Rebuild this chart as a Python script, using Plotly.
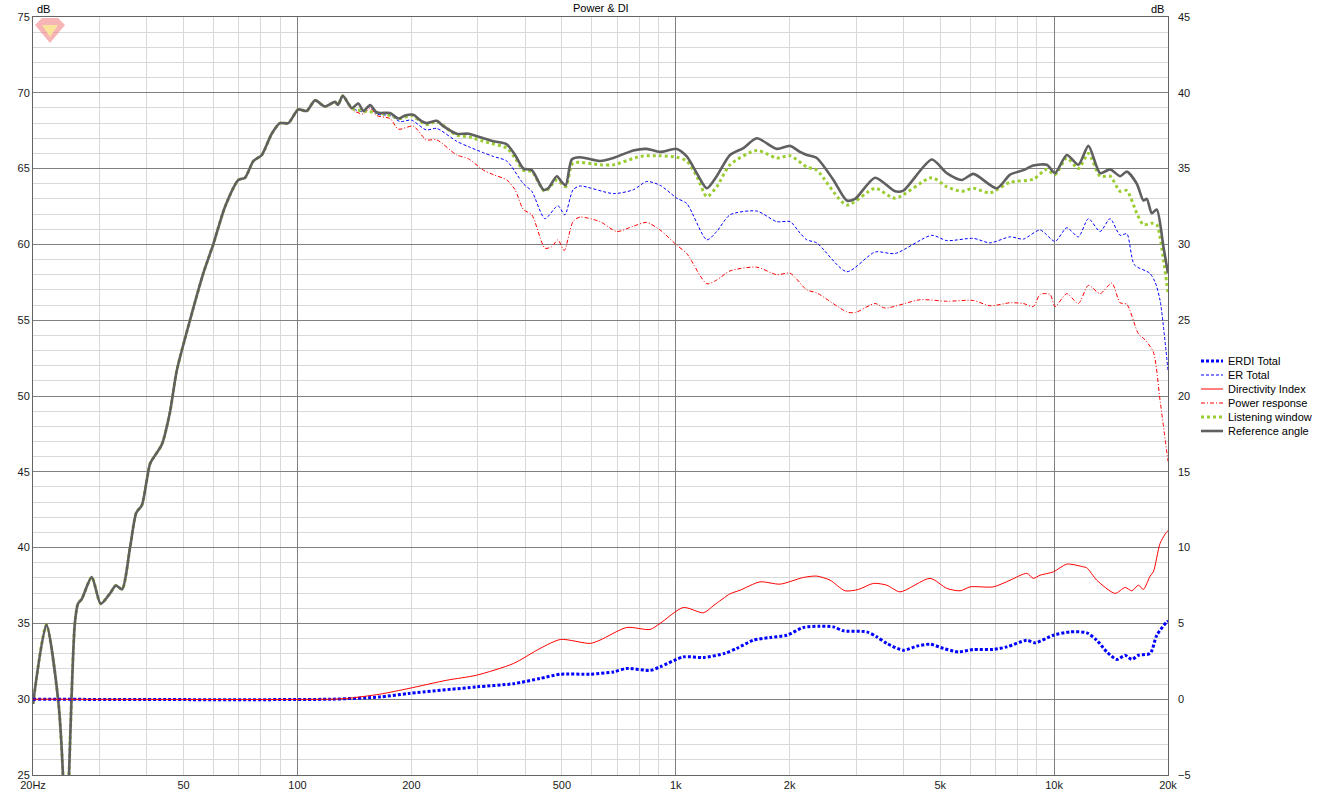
import math
import plotly.graph_objects as go

# ---------------- data ----------------
REF_F = [20, 21.7, 23.3, 24.0, 24.4, 24.9, 25.8, 26.3, 26.9, 28.6, 30.2, 32.0, 33.1, 34.4, 36.1, 37.5, 38.8, 40.0,
         40.8, 43.8, 46.0, 48.0, 52.0, 56.4, 59.9, 64.4, 69.8, 72.7, 76.5, 80.5, 85.5, 89.9, 94.6, 100.5, 105.8,
         111.3, 118.3, 125.7, 128, 131.8, 139.2, 144.9, 149.4, 155.6, 162, 175.7, 184.8, 192.5, 202.4, 210.9, 219,
         233.4, 243, 263.6, 283, 310, 329.6, 357.4, 376, 395.6, 416.4, 447, 460, 485, 500, 512, 531, 558, 631, 684,
         772, 838, 909, 1006, 1069, 1136, 1208, 1283, 1391, 1509, 1637, 1849, 2005, 2130, 2220, 2358, 2610, 2831,
         2978, 3364, 3799, 3995, 4750, 5204, 5702, 6120, 7054, 7650, 8294, 8814, 9564, 10058, 10802, 11592, 12322,
         13230, 14060, 14944, 15566, 16542, 17218, 17580, 18122, 18680, 19450, 20000]
REF_DB = [29.7, 34.9, 30.0, 25.0, 18.0, 25.0, 35.0, 36.3, 36.6, 38.05, 36.3, 37.0, 37.5, 37.25, 40.0, 42.3, 42.8, 44.5,
          45.55, 46.8, 48.9, 51.7, 55.0, 58.1, 60.0, 62.5, 64.25, 64.4, 65.5, 65.9, 67.3, 68.0, 68.0, 68.9, 68.8,
          69.5, 69.1, 69.4, 69.2, 69.8, 69.0, 69.3, 68.8, 69.2, 68.7, 68.66, 68.3, 68.5, 68.55, 68.2, 68.0,
          68.15, 67.8, 67.3, 67.3, 67.0, 66.8, 66.6, 65.9, 65.0, 64.9, 63.6, 63.7, 64.5, 64.1, 63.9, 65.6, 65.75, 65.5,
          65.7, 66.2, 66.3, 66.1, 66.3, 65.8, 64.7, 63.7, 64.5, 65.9, 66.35, 67.0, 66.3, 66.5, 66.1, 65.9, 65.7, 64.25,
          62.9, 63.0, 64.4, 63.5, 63.55, 65.6, 64.7, 64.25, 64.65, 63.7, 64.6, 64.9, 65.2, 65.25, 64.7, 65.9, 65.25,
          66.5, 64.7, 64.95, 64.5, 64.8, 64.0, 62.9, 63.0, 62.05, 62.3, 59.85, 58.1]

LW_F = [139.2, 149.4, 162, 175.7, 187, 200, 219, 233.4, 263.6, 283, 310, 357.4, 376, 395.6, 416.4, 451, 485, 512,
        535, 631, 684, 805, 909, 1006, 1069, 1136, 1208, 1283, 1391, 1637, 1849, 2005, 2220, 2358, 2831, 3364, 3799,
        4750, 5204, 5702, 6120, 6772, 7650, 8814, 9564, 10058, 10802, 11592, 12322, 13230, 14060, 14944, 15566,
        16542, 17218, 18122, 18680, 19450, 20000]
LW_DB = [69.0, 68.8, 68.7, 68.5, 68.3, 68.5, 67.9, 68.1, 67.2, 67.1, 66.8, 66.35, 65.7, 64.9, 64.8, 63.5, 64.25, 63.8,
         65.35, 65.25, 65.25, 65.8, 65.85, 65.75, 65.5, 64.5, 63.15, 63.8, 65.25, 66.2, 65.7, 65.85, 65.1, 64.9, 62.6,
         63.7, 63.05, 64.4, 63.8, 63.5, 63.7, 63.4, 64.1, 64.3, 64.95, 64.6, 65.7, 65.0, 66.0, 64.5, 64.5, 63.5, 63.55,
         62.05, 61.3, 61.4, 61.3, 59.0, 56.8]

ER_F = [139.2, 149.4, 155.6, 162, 175.7, 187, 200, 219, 233.4, 263.6, 283, 310, 329.6, 357.4, 395.6, 416.4, 451, 488,
        509, 535, 558, 684, 772, 838, 909, 1006, 1069, 1208, 1283, 1391, 1637, 1849, 2005, 2130, 2220, 2358, 2831,
        3364, 3799, 4750, 5204, 6120, 6772, 7650, 8294, 9180, 10058, 10802, 11592, 12322, 13230, 14060, 14944,
        15566, 16300, 17900, 18500, 19060, 20000]
ER_DB = [69.0, 68.75, 69.1, 68.6, 68.5, 68.1, 68.2, 67.55, 67.65, 66.8, 66.45, 66.05, 65.8, 65.5, 64.0, 63.5, 61.7,
         62.55, 61.95, 63.6, 63.85, 63.35, 63.6, 64.15, 63.9, 63.05, 62.7, 60.3, 60.85, 61.95, 62.2, 61.5, 61.5, 60.75,
         60.3, 60.1, 58.2, 59.5, 59.4, 60.6, 60.25, 60.4, 60.1, 60.5, 60.35, 60.95, 60.2, 61.1, 60.5, 61.7, 60.85,
         61.7, 60.6, 60.7, 58.65, 58.1, 57.5, 56.3, 51.7]

PR_F = [139.2, 149.4, 155.6, 162, 175.7, 184.8, 202.4, 219, 233.4, 263.6, 283, 310, 329.6, 357.4, 376, 395.6, 416.4,
        451, 470, 488, 507, 535, 558, 631, 698, 772, 838, 909, 1006, 1069, 1208, 1283, 1391, 1637, 1849, 2005, 2220,
        2358, 2831, 2978, 3364, 3574, 4424, 5204, 6120, 6772, 7650, 8294, 8814, 9180, 9758, 10058, 10802, 11592,
        12322, 13230, 14206, 14944, 15566, 16706, 17398, 18298, 19060, 20000]
PR_DB = [68.9, 68.6, 69.0, 68.5, 68.3, 67.6, 67.8, 66.9, 66.9, 65.9, 65.65, 64.9, 64.6, 64.25, 63.6, 62.3, 61.95,
         59.75, 59.85, 60.3, 59.6, 61.5, 61.8, 61.5, 60.85, 61.2, 61.45, 60.95, 59.95, 59.4, 57.4, 57.65, 58.25, 58.5,
         58.0, 58.1, 57.0, 56.8, 55.55, 55.5, 56.1, 55.8, 56.35, 56.25, 56.3, 55.95, 56.15, 56.1, 55.9, 56.7, 56.7,
         55.9, 56.75, 56.1, 57.3, 56.75, 57.45, 56.15, 56.05, 54.1, 53.7, 52.9, 49.7, 45.7]

DI_F = [20, 122, 135, 165, 197, 248, 297, 372, 438, 496, 594, 631, 742, 855, 909, 1047, 1183, 1262, 1391, 1479, 1670,
        1887, 2174, 2358, 2558, 2802, 3039, 3330, 3612, 3916, 4700, 5204, 5642, 5998, 6910, 7650, 8468, 8814, 9180,
        9956, 10802, 11950, 12200, 12968, 14494, 15406, 16046, 16706, 17218, 17936, 18298, 19060, 19850, 20000]
DI_DB = [0, 0, 0.05, 0.33, 0.71, 1.25, 1.58, 2.35, 3.35, 3.94, 3.68, 3.9, 4.73, 4.6, 5.0, 6.05, 5.7, 6.2, 6.95, 7.19,
         7.74, 7.59, 8.03, 8.12, 7.85, 7.15, 7.24, 7.64, 7.52, 7.08, 7.97, 7.31, 7.15, 7.41, 7.41, 7.85, 8.3, 7.97,
         8.18, 8.4, 8.91, 8.73, 8.67, 7.85, 6.98, 7.37, 7.15, 7.52, 7.24, 8.12, 8.4, 10.28, 11.04, 11.1]

ERDI_F = [20, 122, 165, 197, 297, 372, 438, 496, 594, 684, 742, 855, 909, 1047, 1183, 1346, 1449, 1603, 1775, 1965,
          2174, 2406, 2610, 2774, 3198, 3399, 3612, 3995, 4335, 4700, 5096, 5584, 6120, 6910, 7498, 8468, 8906, 9956,
          11022, 12200, 12968, 13782, 14646, 15406, 16046, 16706, 17936, 18680, 19850, 20000]
ERDI_DB = [0, 0, 0.15, 0.38, 0.81, 1.02, 1.37, 1.65, 1.65, 1.8, 2.03, 1.9, 2.13, 2.79, 2.75, 3.02, 3.35, 3.89, 4.07,
           4.22, 4.73, 4.82, 4.77, 4.51, 4.44, 4.11, 3.68, 3.23, 3.5, 3.63, 3.35, 3.12, 3.28, 3.28, 3.45, 3.89, 3.72,
           4.22, 4.44, 4.38, 3.89, 3.12, 2.62, 2.9, 2.62, 2.9, 3.02, 4.22, 5.1, 5.15]

X_TICKS = [20, 50, 100, 200, 500, 1000, 2000, 5000, 10000, 20000]
X_TICK_TEXT = ["20Hz", "50", "100", "200", "500", "1k", "2k", "5k", "10k", "20k"]
X_DECADES = [100, 1000, 10000]
X_MINOR = [m * d for d in (10, 100, 1000, 10000) for m in range(2, 10) if 20 <= m * d <= 20000 and m * d not in X_TICKS]

SERIES_NAMES = ["ERDI Total", "ER Total", "Directivity Index", "Power response", "Listening window", "Reference angle"]

for a, b in [(REF_F, REF_DB), (LW_F, LW_DB), (ER_F, ER_DB), (PR_F, PR_DB), (DI_F, DI_DB), (ERDI_F, ERDI_DB)]:
    assert len(a) == len(b), (len(a), len(b))

# below ~135 Hz the spatial averages coincide with the reference response
low_f = [f for f in REF_F if f < 135]
low_db = REF_DB[:len(low_f)]

# ---------------- styles ----------------
BLUE = "#0000ff"
RED = "#ff0000"
GREEN = "#9acd32"
GREY = "#606060"
FONT = "Liberation Sans, Arial, sans-serif"

styles = {
    "ERDI Total": dict(color=BLUE, width=3, dash="3px,2px"),
    "ER Total": dict(color=BLUE, width=1, dash="3px,2px"),
    "Directivity Index": dict(color=RED, width=1, dash="solid"),
    "Power response": dict(color=RED, width=1, dash="4px,2px,1px,2px"),
    "Listening window": dict(color=GREEN, width=3, dash="3px,3px"),
    "Reference angle": dict(color=GREY, width=2.6, dash="solid"),
}

fig = go.Figure()

def add(name, xs, ys, right=False):
    fig.add_trace(go.Scatter(
        x=xs, y=ys, name=name, mode="lines",
        line=dict(shape="spline", smoothing=0.7, **styles[name]),
        xaxis="x2" if right else "x", yaxis="y2" if right else "y",
        showlegend=False, hoverinfo="x+y+name",
    ))

add("ERDI Total", ERDI_F, ERDI_DB, right=True)
add("ER Total", low_f + ER_F, low_db + ER_DB)
add("Directivity Index", DI_F, DI_DB, right=True)
add("Power response", low_f + PR_F, low_db + PR_DB)
add("Listening window", low_f + LW_F, low_db + LW_DB)
add("Reference angle", REF_F, REF_DB)

# ---------------- layout ----------------
L, R, T, B = 33, 150, 17, 18
W, H = 1318, 793
pw, ph = W - L - R, H - T - B

def px(xp):
    return (xp - L) / pw

def py(yp):
    return (H - B - yp) / ph

LIGHT = "#d9d9d9"
DARK = "#808080"
AXIS = "#646464"
TICKC = "#1a1a1a"
TF = 11
xr = [math.log10(20), math.log10(20000)]

fig.update_layout(
    width=W, height=H,
    margin=dict(l=L, r=R, t=T, b=B, autoexpand=False),
    paper_bgcolor="white", plot_bgcolor="white",
    font=dict(family=FONT, size=TF, color=TICKC),
    showlegend=False,
    xaxis=dict(type="log", range=xr, tickvals=X_TICKS, ticktext=X_TICK_TEXT, ticks="",
               showgrid=True, gridcolor=LIGHT, gridwidth=1,
               minor=dict(tickvals=X_MINOR, showgrid=True, gridcolor=LIGHT, gridwidth=1, ticks=""),
               showline=True, mirror=True, linecolor=AXIS, linewidth=1, zeroline=False,
               tickfont=dict(size=TF, color=TICKC), fixedrange=True, automargin=False),
    xaxis2=dict(type="log", range=xr, overlaying="x", tickvals=X_DECADES, showticklabels=False, ticks="",
                showgrid=True, gridcolor=DARK, gridwidth=1, showline=False, zeroline=False, fixedrange=True),
    yaxis=dict(range=[25, 75], dtick=5, tick0=25, ticks="", showgrid=True, gridcolor=DARK, gridwidth=1,
               minor=dict(dtick=1, showgrid=True, gridcolor=LIGHT, gridwidth=1, ticks=""),
               showline=True, mirror=True, linecolor=AXIS, linewidth=1, zeroline=False,
               tickfont=dict(size=TF, color=TICKC), fixedrange=True, automargin=False),
    yaxis2=dict(range=[-5, 45], dtick=5, tick0=-5, side="right", overlaying="y", anchor="x2", ticks="",
                showgrid=False, zeroline=False, showline=False, ticklabelstandoff=9,
                tickfont=dict(size=TF, color=TICKC), fixedrange=True, automargin=False),
)

annotations = [
    dict(text="Power & DI", x=0.5, y=py(8), xref="paper", yref="paper", showarrow=False,
         xanchor="center", yanchor="middle", font=dict(size=11, color="#000000")),
    dict(text="dB", x=px(35), y=py(9), xref="paper", yref="paper", showarrow=False,
         xanchor="left", yanchor="middle", font=dict(size=11, color="#000000")),
    dict(text="dB", x=px(1166), y=py(9), xref="paper", yref="paper", showarrow=False,
         xanchor="right", yanchor="middle", font=dict(size=11, color="#000000")),
]

shapes = []
# manual legend (compact row spacing like the original)
for i, name in enumerate(SERIES_NAMES):
    yrow = py(361 + 14 * i)
    st = styles[name]
    shapes.append(dict(type="line", xref="paper", yref="paper", x0=px(1201), x1=px(1223), y0=yrow, y1=yrow,
                       line=dict(color=st["color"], width=st["width"], dash=st["dash"])))
    annotations.append(dict(text=name, x=px(1226), y=yrow, xref="paper", yref="paper", showarrow=False,
                            xanchor="left", yanchor="middle", font=dict(size=11, color="#000000")))

# small watermark logo, top-left
def pth(points):
    return "M " + " L ".join(f"{px(a):.5f},{py(b):.5f}" for a, b in points) + " Z"

shapes.append(dict(type="path", xref="paper", yref="paper", layer="above",
                   path=pth([(35, 25), (42, 18), (58, 18), (65, 25), (50, 43)]),
                   fillcolor="rgba(240,120,120,0.55)", line=dict(width=0)))
shapes.append(dict(type="path", xref="paper", yref="paper", layer="above",
                   path=pth([(42, 25), (58, 25), (50, 37)]),
                   fillcolor="rgba(250,240,150,0.8)", line=dict(width=0)))

fig.update_layout(annotations=annotations, shapes=shapes)

fig.write_html(
    "out.html",
    config={"responsive": False, "displayModeBar": False},
    post_script="document.body.style.margin='0px';document.body.style.overflow='hidden';",
)
